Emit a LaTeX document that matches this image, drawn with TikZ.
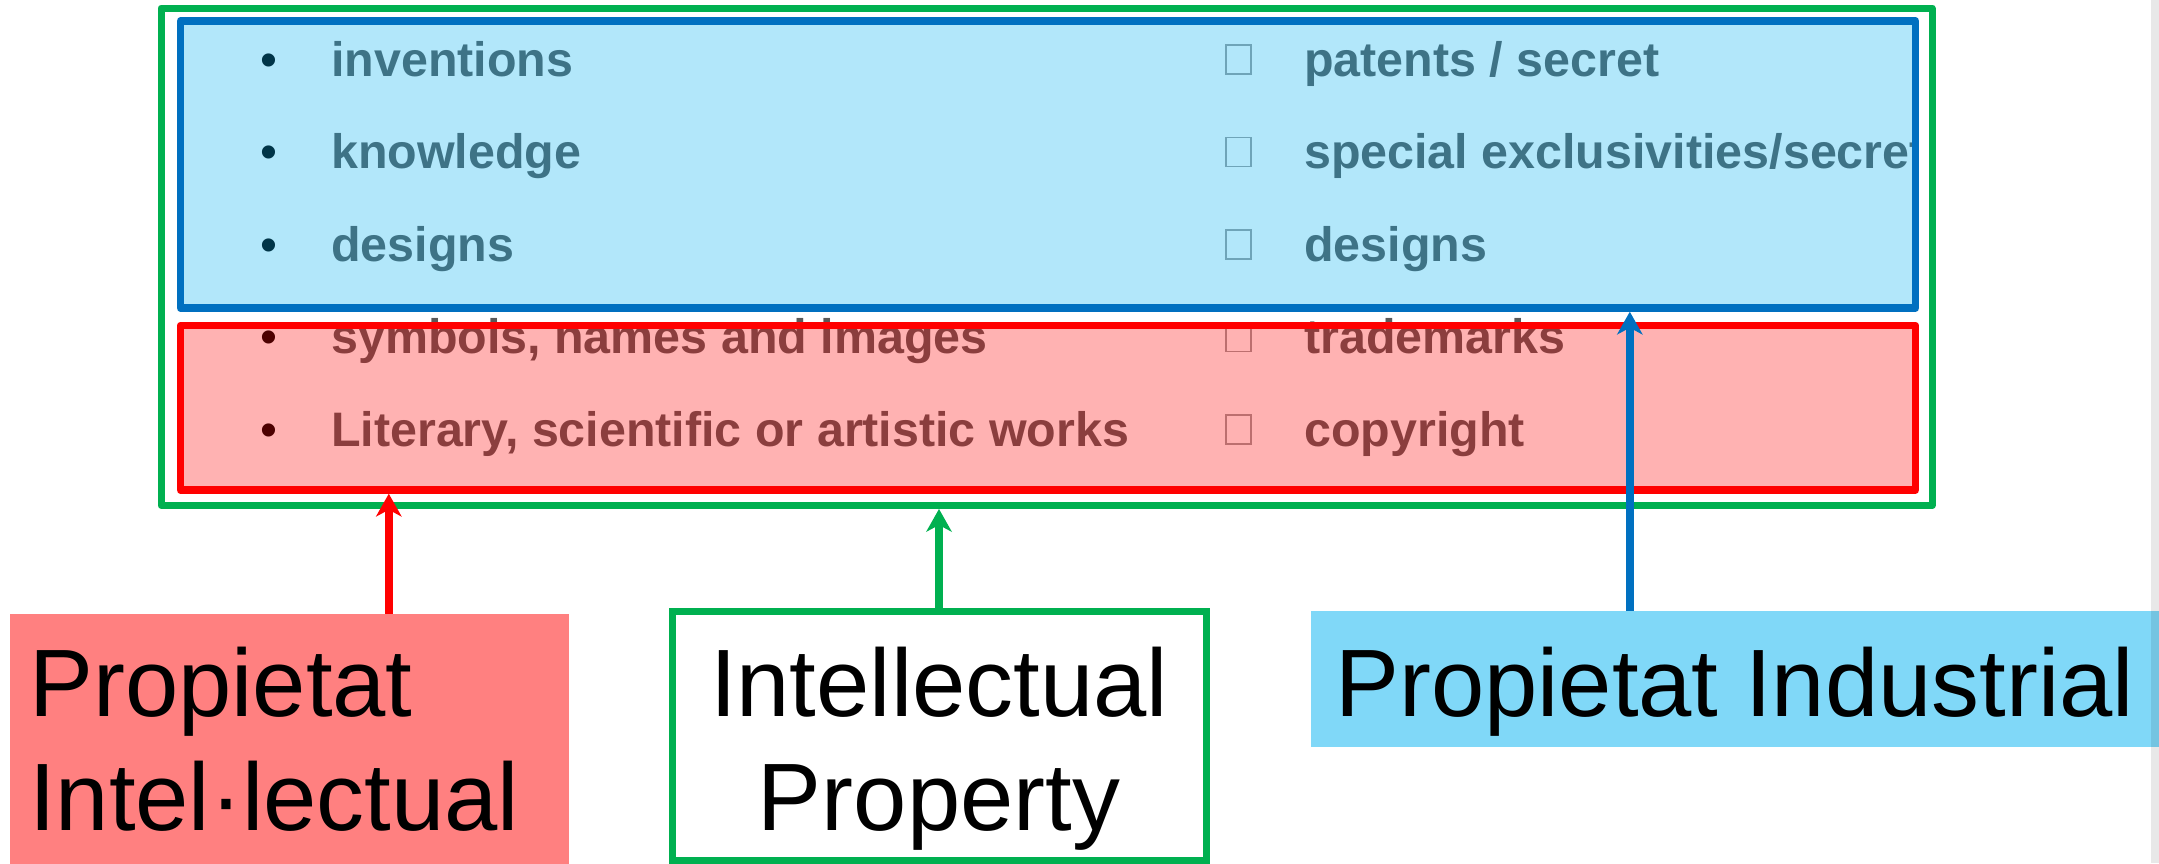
\documentclass[tikz,border=0pt]{standalone}
\usepackage{fontspec}
\setmainfont{Liberation Sans}
\usetikzlibrary{arrows.meta}

\definecolor{ipgreen}{HTML}{00B050}
\definecolor{ipblue}{HTML}{0070C0}
\definecolor{ipcyan}{HTML}{00B0F0}
\definecolor{ipred}{HTML}{FF0000}
\definecolor{iptext}{HTML}{595959}
\definecolor{tofu}{HTML}{A0A0A0}
\definecolor{pifill}{HTML}{FF8080}
\definecolor{indfill}{HTML}{80D8F8}

\begin{document}
\begin{tikzpicture}[x=1pt,y=-1pt,
  item/.style={anchor=base west, inner sep=0, font=\fontsize{48.4}{58}\selectfont\bfseries, text=iptext},
  dot/.style={anchor=base west, inner sep=0, font=\fontsize{48.4}{58}\selectfont, text=black},
  tofubox/.style={draw=tofu, line width=1.3pt, inner sep=0, outer sep=0, minimum width=25pt, minimum height=29pt, anchor=south west},
  overlay box/.style={inner sep=0, line width=7.5pt, line join=round, fill opacity=0.3, draw opacity=1},
  biglabel/.style={inner sep=0, font=\fontsize{95.8}{115}\selectfont, text=black},
  conn/.style={line width=7.5pt, -{Stealth[length=23pt, width=26pt, inset=7pt, line width=0pt]}}
]
\useasboundingbox (0,0) rectangle (2159,863);

% left column: bullets and items
\node[dot]  (b1) at (260.5,76)    {•};
\node[dot]  (b2) at (260.5,168.5) {•};
\node[dot]  (b3) at (260.5,261)   {•};
\node[dot]  (b4) at (260.5,353.5) {•};
\node[dot]  (b5) at (260.5,446)   {•};
\node[item] (l1) at (331,76)    {inventions};
\node[item] (l2) at (331,168.5) {knowledge};
\node[item] (l3) at (331,261)   {designs};
\node[item] (l4) at (331,353.5) {symbols, names and images};
\node[item] (l5) at (331,446)   {Literary, scientific or artistic works};

% right column: empty glyph boxes and items, cut at the frame edge
\begin{scope}
\clip (0,0) rectangle (1917,863);
\node[tofubox] (t1) at (1226,74)    {};
\node[tofubox] (t2) at (1226,166.5) {};
\node[tofubox] (t3) at (1226,259)   {};
\node[tofubox] (t4) at (1226,351.5) {};
\node[tofubox] (t5) at (1226,444)   {};
\node[item] (r1) at (1304,76)    {patents / secret};
\node[item] (r2) at (1304,168.5) {special exclusivities/secret};
\node[item] (r3) at (1304,261)   {designs};
\node[item] (r4) at (1304,353.5) {trademarks};
\node[item] (r5) at (1304,446)   {copyright};
\end{scope}

% translucent groupings over the lists
\node[overlay box, draw=ipblue, fill=ipcyan, minimum width=1735pt, minimum height=287pt] (bluerect) at (1048,164.5) {};
\node[overlay box, draw=ipred, fill=ipred, minimum width=1735pt, minimum height=164.5pt] (redrect) at (1048,407.75) {};
\node[inner sep=0, draw=ipgreen, line width=7pt, line join=round, minimum width=1771pt, minimum height=497.5pt] (greenrect) at (1046.5,256.75) {};

% labels below
\node[inner sep=0, fill=pifill, minimum width=559pt, minimum height=256pt] (pibox) at (289.5,742) {};
\node[inner sep=0, draw=ipgreen, fill=white, line width=7pt, minimum width=534pt, minimum height=249pt] (ipnode) at (939,735.5) {};
\node[inner sep=0, fill=indfill, minimum width=860pt, minimum height=136pt] (indbox) at (1741,679) {};

\node[biglabel, anchor=base west] (pi1) at (29,716) {Propietat};
\node[biglabel, anchor=base west] (pi2) at (29,830) {Intel·lectual};
\node[biglabel, anchor=base] (ip1) at (939,716) {Intellectual};
\node[biglabel, anchor=base] (ip2) at (939,830) {Property};
\node[biglabel, anchor=base west] (ind) at (1335,716) {Propietat Industrial};

% page edge shading
\fill[black, opacity=0.09] (2151,0) rectangle (2159,863);

% connectors
\coordinate (redfoot) at ([xshift=379pt]pibox.north west);
\coordinate (bluefoot) at ([xshift=319pt]indbox.north west);
\draw[conn, ipred] (redfoot) -- (redfoot |- redrect.south);
\draw[conn, ipgreen] (ipnode.north) -- (ipnode.north |- greenrect.south);
\draw[conn, ipblue] (bluefoot) -- (bluefoot |- bluerect.south);
\end{tikzpicture}
\end{document}
